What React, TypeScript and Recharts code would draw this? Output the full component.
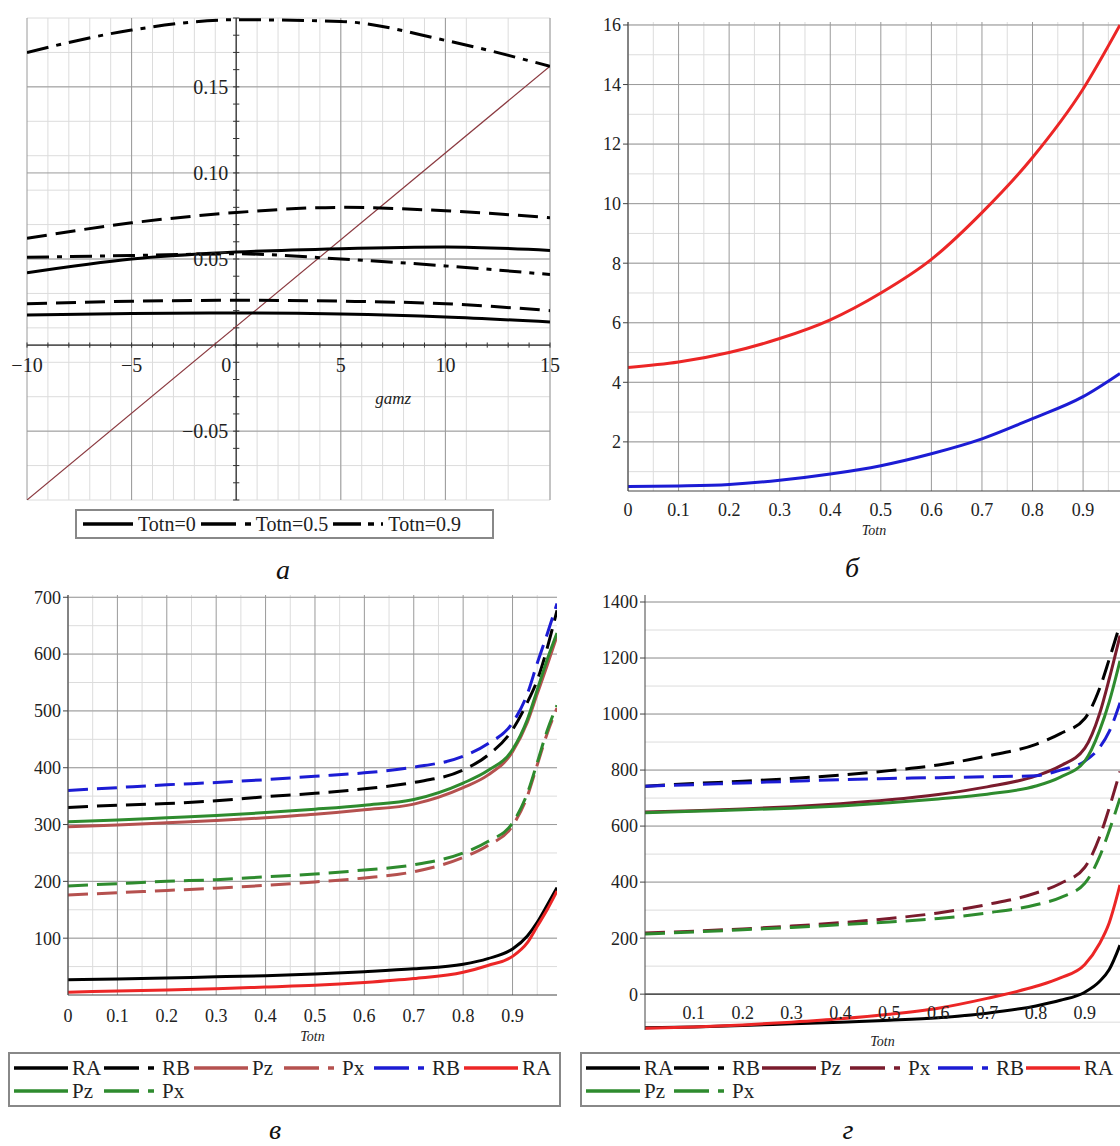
import React from "react"
import { LineChart, Line, XAxis, YAxis, CartesianGrid, ReferenceLine, ReferenceDot } from "recharts"

const FONT = "Liberation Serif"

// ---- panel а : gamz vs value, three Totn levels (two groups each)
const gamz = [-10, -5, 0, 5, 10, 15]
const totn0Low = [0.0175, 0.0183, 0.0186, 0.018, 0.0163, 0.0134]
const totn05Low = [0.024, 0.0255, 0.026, 0.0255, 0.024, 0.02]
const totn09Low = [0.051, 0.052, 0.053, 0.05, 0.046, 0.041]
const totn0High = [0.042, 0.05, 0.054, 0.056, 0.057, 0.055]
const totn05High = [0.062, 0.071, 0.077, 0.08, 0.078, 0.074]
const totn09High = [0.17, 0.183, 0.189, 0.188, 0.177, 0.162]
const brownLine = [
  { g: -10, v: -0.09 },
  { g: 15, v: 0.162 },
]
const aTicksX = [-10, -5, 0, 5, 10, 15]
const aLabelsX = ["−10", "−5", "0", "5", "10", "15"]
const aTicksY = [-0.05, 0.05, 0.1, 0.15]
const aLabelsY = ["−0.05", "0.05", "0.10", "0.15"]

// ---- panel б
const totnB = [0, 0.1, 0.2, 0.3, 0.4, 0.5, 0.6, 0.7, 0.8, 0.9, 0.973]
const redB = [4.5, 4.68, 5.0, 5.47, 6.1, 7.0, 8.13, 9.7, 11.55, 13.85, 16.0]
const blueB = [0.5, 0.52, 0.57, 0.71, 0.92, 1.2, 1.6, 2.1, 2.78, 3.52, 4.3]
const bTicksY = [2, 4, 6, 8, 10, 12, 14, 16]

// ---- panel в
const totnV = [0, 0.1, 0.2, 0.3, 0.4, 0.5, 0.6, 0.7, 0.8, 0.85, 0.9, 0.93, 0.95, 0.97, 0.99]
const raBlackV = [27, 28, 30, 32, 34, 37, 41, 46, 54, 64, 81, 104, 128, 158, 189]
const rbBlackV = [330, 334, 337, 342, 349, 355, 363, 374, 396, 422, 467, 515, 554, 610, 677]
const pzBrownV = [296, 299, 303, 307, 312, 318, 326, 336, 365, 387, 428, 480, 530, 580, 632]
const pxBrownV = [176, 180, 184, 188, 193, 199, 206, 217, 242, 263, 298, 350, 405, 460, 505]
const rbBlueV = [360, 365, 370, 374, 379, 385, 391, 401, 420, 442, 479, 530, 584, 635, 689]
const raRedV = [5, 7, 9, 11, 14, 17, 22, 29, 40, 52, 68, 92, 121, 150, 183]
const pzGreenV = [305, 308, 312, 316, 321, 327, 334, 344, 373, 395, 432, 485, 537, 590, 637]
const pxGreenV = [192, 196, 200, 203, 208, 213, 220, 229, 250, 270, 303, 355, 409, 465, 510]
const vTicksY = [100, 200, 300, 400, 500, 600, 700]

// ---- panel г
const totnG = [0, 0.1, 0.2, 0.3, 0.4, 0.5, 0.6, 0.7, 0.8, 0.85, 0.9, 0.93, 0.95, 0.972]
const raBlackG = [-120, -117, -112, -106, -100, -93, -84, -68, -42, -22, 7, 45, 88, 175]
const rbBlackG = [742, 752, 760, 770, 782, 798, 818, 850, 892, 930, 984, 1090, 1196, 1320]
const pzBrownG = [650, 655, 661, 669, 680, 694, 713, 740, 779, 815, 878, 1000, 1126, 1280]
const pxBrownG = [218, 225, 233, 243, 255, 270, 290, 320, 361, 395, 453, 560, 665, 795]
const rbBlueG = [742, 748, 754, 760, 766, 770, 773, 776, 780, 800, 832, 880, 938, 1040]
const raRedG = [-122, -117, -110, -100, -88, -72, -50, -15, 28, 58, 106, 180, 255, 390]
const pzGreenG = [648, 653, 658, 664, 672, 683, 697, 714, 743, 775, 832, 940, 1044, 1190]
const pxGreenG = [215, 222, 230, 238, 248, 258, 270, 290, 319, 345, 396, 490, 584, 700]
const gTicksY = [0, 200, 400, 600, 800, 1000, 1200, 1400]

const totnTicks = [0, 0.1, 0.2, 0.3, 0.4, 0.5, 0.6, 0.7, 0.8, 0.9]

const BLACK = "#000"
const BROWN_V = "#b5514f"
const BROWN_G = "#7a1b2d"
const BLUE = "#1c1cd4"
const RED = "#ec2626"
const GREEN = "#2e8b2e"
const DASH = "20 9"
const DASHDOT = "22 8 5 8"
const MINOR = "#dcdcdc"
const MAJOR = "#9a9a9a"

// grid positions (index based so no float drift)
const steps = (a: number, b: number, s: number) => {
  const out: number[] = []
  const n = Math.round((b - a) / s)
  for (let i = 0; i <= n; i++) out.push(+(a + i * s).toFixed(6))
  return out
}

const tick = { fontFamily: FONT, fontSize: 18, fill: "#222" }
const tickA = { fontFamily: FONT, fontSize: 20, fill: "#222" }
const axisLabel = { fontFamily: FONT, fontSize: 14, fontStyle: "italic", fill: "#222" }

function PanelA() {
  const data = gamz.map((g, i) => ({
    g,
    t0l: totn0Low[i],
    t05l: totn05Low[i],
    t09l: totn09Low[i],
    t0h: totn0High[i],
    t05h: totn05High[i],
    t09h: totn09High[i],
  }))
  return (
    <LineChart width={560} height={510} data={data} margin={{ top: 18, right: 10, bottom: 10, left: 27 }}>
      <CartesianGrid verticalValues={steps(-10, 15, 1)} horizontalValues={steps(-0.09, 0.19, 0.01)} stroke={MINOR} />
      <CartesianGrid verticalValues={aTicksX} horizontalValues={[-0.05, 0, 0.05, 0.1, 0.15]} stroke={MAJOR} />
      <XAxis type="number" dataKey="g" domain={[-10, 15]} hide allowDataOverflow />
      <YAxis type="number" domain={[-0.09, 0.19]} hide allowDataOverflow />
      <ReferenceLine x={0} stroke="#333" strokeWidth={1.2} />
      <ReferenceLine y={0} stroke="#333" strokeWidth={1.2} />
      {steps(-10, 15, 1).map((v) => (
        <ReferenceLine key={"xt" + v} segment={[{ x: v, y: -0.0015 }, { x: v, y: 0.0015 }]} stroke="#333" />
      ))}
      {steps(-0.09, 0.19, 0.01).map((v) => (
        <ReferenceLine key={"yt" + v} segment={[{ x: -0.15, y: v }, { x: 0.15, y: v }]} stroke="#333" />
      ))}
      {aTicksX.map((v, i) => (
        <ReferenceDot
          key={"xl" + v}
          x={v}
          y={0}
          r={0}
          stroke="none"
          label={{ value: aLabelsX[i], position: "bottom", offset: 13, ...tickA, dx: v === 0 ? -10 : 0 }}
        />
      ))}
      {aTicksY.map((v, i) => (
        <ReferenceDot key={"yl" + v} x={0} y={v} r={0} stroke="none" label={{ value: aLabelsY[i], position: "left", offset: 8, ...tickA }} />
      ))}
      <ReferenceDot x={7.5} y={-0.031} r={0} stroke="none" label={{ value: "gamz", position: "center", ...axisLabel, fontSize: 17 }} />
      <Line data={brownLine} dataKey="v" type="linear" stroke="#8b3a40" strokeWidth={1.2} dot={false} isAnimationActive={false} />
      <Line dataKey="t0l" type="monotone" stroke={BLACK} strokeWidth={3} dot={false} isAnimationActive={false} />
      <Line dataKey="t05l" type="monotone" stroke={BLACK} strokeWidth={3} strokeDasharray={DASH} dot={false} isAnimationActive={false} />
      <Line dataKey="t09l" type="monotone" stroke={BLACK} strokeWidth={3} strokeDasharray={DASHDOT} dot={false} isAnimationActive={false} />
      <Line dataKey="t0h" type="monotone" stroke={BLACK} strokeWidth={3} dot={false} isAnimationActive={false} />
      <Line dataKey="t05h" type="monotone" stroke={BLACK} strokeWidth={3} strokeDasharray={DASH} dot={false} isAnimationActive={false} />
      <Line dataKey="t09h" type="monotone" stroke={BLACK} strokeWidth={3} strokeDasharray={DASHDOT} dot={false} isAnimationActive={false} />
    </LineChart>
  )
}

function PanelB() {
  const data = totnB.map((t, i) => ({ t, red: redB[i], blue: blueB[i] }))
  return (
    <LineChart width={550} height={545} data={data} margin={{ top: 22, right: 0, bottom: 4, left: 0 }}>
      <CartesianGrid verticalValues={steps(0, 0.95, 0.05)} horizontalValues={steps(1, 16, 1)} stroke={MINOR} />
      <CartesianGrid verticalValues={totnTicks} horizontalValues={bTicksY} stroke={MAJOR} />
      <XAxis
        type="number"
        dataKey="t"
        domain={[0, 0.973]}
        ticks={totnTicks}
        height={50}
        tick={tick}
        tickLine={false}
        tickMargin={6}
        axisLine={{ stroke: "#444" }}
        allowDataOverflow
        label={{ value: "Totn", position: "insideBottom", offset: 6, ...axisLabel }}
      />
      <YAxis type="number" domain={[0.35, 16.1]} ticks={bTicksY} width={58} tick={tick} tickSize={5} tickLine={{ stroke: "#444" }} axisLine={{ stroke: "#444" }} allowDataOverflow />
      <Line dataKey="red" type="monotone" stroke={RED} strokeWidth={3} dot={false} isAnimationActive={false} />
      <Line dataKey="blue" type="monotone" stroke={BLUE} strokeWidth={3} dot={false} isAnimationActive={false} />
    </LineChart>
  )
}

function PanelV() {
  const data = totnV.map((t, i) => ({
    t,
    raB: raBlackV[i],
    rbB: rbBlackV[i],
    pzBr: pzBrownV[i],
    pxBr: pxBrownV[i],
    rbBl: rbBlueV[i],
    raR: raRedV[i],
    pzG: pzGreenV[i],
    pxG: pxGreenV[i],
  }))
  return (
    <LineChart width={560} height={465} data={data} margin={{ top: 15, right: 3, bottom: 0, left: 0 }}>
      <CartesianGrid verticalValues={steps(0, 0.95, 0.05)} horizontalValues={steps(50, 700, 50)} stroke={MINOR} />
      <CartesianGrid verticalValues={totnTicks} horizontalValues={vTicksY} stroke={MAJOR} />
      <XAxis
        type="number"
        dataKey="t"
        domain={[0, 0.99]}
        ticks={totnTicks}
        height={50}
        tick={tick}
        tickLine={false}
        tickMargin={8}
        axisLine={{ stroke: "#444" }}
        allowDataOverflow
        label={{ value: "Totn", position: "insideBottom", offset: 4, ...axisLabel }}
      />
      <YAxis type="number" domain={[0, 704]} ticks={vTicksY} width={68} tick={tick} tickSize={5} tickLine={{ stroke: "#444" }} axisLine={{ stroke: "#444" }} allowDataOverflow />
      <Line dataKey="raB" type="monotone" stroke={BLACK} strokeWidth={3} dot={false} isAnimationActive={false} />
      <Line dataKey="rbB" type="monotone" stroke={BLACK} strokeWidth={3} strokeDasharray={DASH} dot={false} isAnimationActive={false} />
      <Line dataKey="pzBr" type="monotone" stroke={BROWN_V} strokeWidth={3} dot={false} isAnimationActive={false} />
      <Line dataKey="pxBr" type="monotone" stroke={BROWN_V} strokeWidth={3} strokeDasharray={DASH} dot={false} isAnimationActive={false} />
      <Line dataKey="rbBl" type="monotone" stroke={BLUE} strokeWidth={3} strokeDasharray={DASH} dot={false} isAnimationActive={false} />
      <Line dataKey="raR" type="monotone" stroke={RED} strokeWidth={3} dot={false} isAnimationActive={false} />
      <Line dataKey="pzG" type="monotone" stroke={GREEN} strokeWidth={3} dot={false} isAnimationActive={false} />
      <Line dataKey="pxG" type="monotone" stroke={GREEN} strokeWidth={3} strokeDasharray={DASH} dot={false} isAnimationActive={false} />
    </LineChart>
  )
}

function PanelG() {
  const data = totnG.map((t, i) => ({
    t,
    raB: raBlackG[i],
    rbB: rbBlackG[i],
    pzBr: pzBrownG[i],
    pxBr: pxBrownG[i],
    rbBl: rbBlueG[i],
    raR: raRedG[i],
    pzG: pzGreenG[i],
    pxG: pxGreenG[i],
  }))
  return (
    <LineChart width={550} height={470} data={data} margin={{ top: 15, right: 0, bottom: 0, left: 0 }}>
      <CartesianGrid verticalValues={steps(0, 0.95, 0.05)} horizontalValues={steps(-100, 1400, 100)} stroke={MINOR} />
      <CartesianGrid verticalValues={totnTicks} horizontalValues={gTicksY} stroke={MAJOR} />
      <XAxis
        type="number"
        dataKey="t"
        domain={[0, 0.972]}
        height={20}
        tick={false}
        tickLine={false}
        axisLine={false}
        allowDataOverflow
        label={{ value: "Totn", position: "insideBottom", offset: 4, ...axisLabel }}
      />
      <YAxis type="number" domain={[-128, 1425]} ticks={gTicksY} width={75} tick={tick} tickSize={5} tickLine={{ stroke: "#444" }} axisLine={{ stroke: "#444" }} allowDataOverflow />
      <ReferenceLine y={0} stroke="#333" strokeWidth={1.2} />
      {totnTicks.slice(1).map((v) => (
        <ReferenceDot key={"gx" + v} x={v} y={0} r={0} stroke="none" label={{ value: String(v), position: "bottom", offset: 12, ...tick }} />
      ))}
      <Line dataKey="raB" type="monotone" stroke={BLACK} strokeWidth={3} dot={false} isAnimationActive={false} />
      <Line dataKey="rbB" type="monotone" stroke={BLACK} strokeWidth={3} strokeDasharray={DASH} dot={false} isAnimationActive={false} />
      <Line dataKey="pzBr" type="monotone" stroke={BROWN_G} strokeWidth={3} dot={false} isAnimationActive={false} />
      <Line dataKey="pxBr" type="monotone" stroke={BROWN_G} strokeWidth={3} strokeDasharray={DASH} dot={false} isAnimationActive={false} />
      <Line dataKey="rbBl" type="monotone" stroke={BLUE} strokeWidth={3} strokeDasharray={DASH} dot={false} isAnimationActive={false} />
      <Line dataKey="raR" type="monotone" stroke={RED} strokeWidth={3} dot={false} isAnimationActive={false} />
      <Line dataKey="pzG" type="monotone" stroke={GREEN} strokeWidth={3} dot={false} isAnimationActive={false} />
      <Line dataKey="pxG" type="monotone" stroke={GREEN} strokeWidth={3} strokeDasharray={DASH} dot={false} isAnimationActive={false} />
    </LineChart>
  )
}

function Sample({ color, dash, width = 54 }: { color: string; dash?: string; width?: number }) {
  return (
    <svg width={width} height={10} style={{ flex: "none" }}>
      <line x1={0} y1={5} x2={width} y2={5} stroke={color} strokeWidth={3.5} strokeDasharray={dash} />
    </svg>
  )
}

const legDash = "35 9 6 40"
const legDashDot = "28 7 6 7 3 40"

const fourItems = [
  { label: "RA", color: BLACK, dash: undefined },
  { label: "RB", color: BLACK, dash: legDash },
  { label: "Pz", color: "brown", dash: undefined },
  { label: "Px", color: "brown", dash: legDash },
  { label: "RB", color: BLUE, dash: legDash },
  { label: "RA", color: RED, dash: undefined },
  { label: "Pz", color: GREEN, dash: undefined },
  { label: "Px", color: GREEN, dash: legDash },
]

function BigLegend({ left, top, brown, col }: { left: number; top: number; brown: string; col: number }) {
  return (
    <div
      style={{
        position: "absolute",
        left,
        top,
        width: 545,
        border: "2px solid #888",
        background: "#fff",
        display: "grid",
        gridTemplateColumns: `repeat(6, ${col}px)`,
        rowGap: 1,
        padding: "3px 0 3px 4px",
        fontFamily: FONT,
        fontSize: 21,
        color: "#222",
      }}
    >
      {fourItems.map((it, i) => (
        <div key={i} style={{ display: "flex", alignItems: "center", gap: 4, lineHeight: "22px" }}>
          <Sample color={it.color === "brown" ? brown : it.color} dash={it.dash} />
          <span>{it.label}</span>
        </div>
      ))}
    </div>
  )
}

function Caption({ x, y, text }: { x: number; y: number; text: string }) {
  return (
    <div style={{ position: "absolute", left: x - 20, top: y - 16, width: 40, textAlign: "center", fontFamily: FONT, fontStyle: "italic", fontSize: 28, lineHeight: "32px", color: "#111" }}>
      {text}
    </div>
  )
}

export default function App() {
  return (
    <div style={{ position: "absolute", left: 0, top: 0, width: 1120, height: 1146, background: "#fff", overflow: "hidden" }}>
      <div style={{ position: "absolute", left: 0, top: 0 }}>
        <PanelA />
      </div>
      <div
        style={{
          position: "absolute",
          left: 75,
          top: 509,
          width: 409,
          height: 26,
          border: "2px solid #888",
          display: "flex",
          alignItems: "center",
          gap: 5,
          paddingLeft: 6,
          fontFamily: FONT,
          fontSize: 20,
          color: "#222",
        }}
      >
        <Sample color={BLACK} width={50} />
        <span>Totn=0</span>
        <Sample color={BLACK} dash={legDash} width={50} />
        <span>Totn=0.5</span>
        <Sample color={BLACK} dash={legDashDot} width={50} />
        <span>Totn=0.9</span>
      </div>
      <Caption x={283} y={570} text="а" />

      <div style={{ position: "absolute", left: 570, top: 0 }}>
        <PanelB />
      </div>
      <Caption x={852} y={568} text="б" />

      <div style={{ position: "absolute", left: 0, top: 580 }}>
        <PanelV />
      </div>
      <BigLegend left={8} top={1052} brown={BROWN_V} col={90} />
      <Caption x={275} y={1130} text="в" />

      <div style={{ position: "absolute", left: 570, top: 580 }}>
        <PanelG />
      </div>
      <BigLegend left={580} top={1052} brown={BROWN_G} col={88} />
      <Caption x={848} y={1130} text="г" />
    </div>
  )
}
